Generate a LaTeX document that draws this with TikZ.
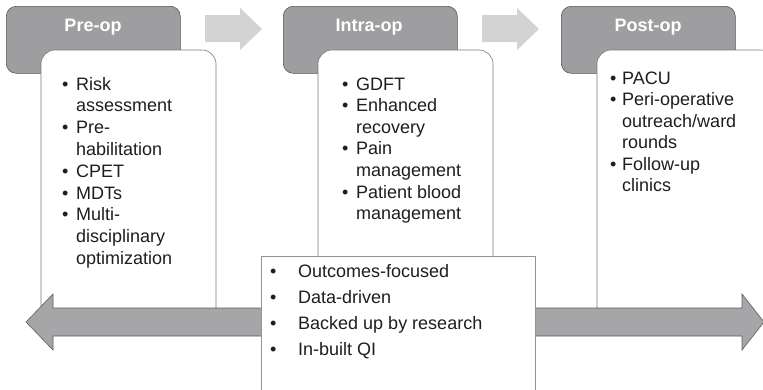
\documentclass[tikz,border=0pt]{standalone}
\usepackage{fontspec}
\setmainfont{Liberation Sans}
\definecolor{hdrfill}{RGB}{158,158,161}
\definecolor{hdrdraw}{RGB}{85,85,85}
\definecolor{boxdraw}{RGB}{120,120,120}
\definecolor{bigfill}{RGB}{166,166,169}
\definecolor{bigdraw}{RGB}{95,95,95}
\definecolor{lightarr}{RGB}{211,211,211}
\definecolor{txt}{RGB}{30,30,30}
\newcommand{\itmA}{\makebox[14pt][l]{\textbullet}}
\newcommand{\itmB}{\makebox[12pt][l]{\textbullet}}
\newcommand{\itmC}{\makebox[28pt][l]{\textbullet}}
\begin{document}
\begin{tikzpicture}[x=1pt,y=-1pt,
  hdr/.style={draw=hdrdraw,line width=0.6pt,fill=hdrfill,rounded corners=10pt,
    minimum width=174pt,minimum height=67pt,anchor=north west,inner sep=0pt},
  hdrtext/.style={text=white,font=\fontsize{18}{21}\selectfont\bfseries,anchor=base,inner sep=0pt},
  wbox/.style={draw=boxdraw,line width=0.6pt,fill=white,rounded corners=14pt},
  listtext/.style={text=txt,anchor=base west,inner sep=0pt,align=left},
  flowarrow/.style={fill=lightarr,draw=none},
  bigarrow/.style={fill=bigfill,draw=bigdraw,line width=0.6pt,line join=miter},
  notebox/.style={draw=boxdraw!80,line width=0.6pt,fill=white}]
\clip (0,0) rectangle (763,389);
\fill[white] (0,0) rectangle (763,389);
% flow arrows between headers
\fill[flowarrow] (205,15) -- (240,15) -- (240,8) -- (262,29) -- (240,50) -- (240,42) -- (205,42) -- cycle;
\fill[flowarrow] (482,15) -- (517,15) -- (517,8) -- (539,29) -- (517,50) -- (517,42) -- (482,42) -- cycle;
% headers
\node[hdr] (preh) at (6,6) {};
\node[hdr] (intrah) at (283,6) {};
\node[hdr] (posth) at (561,6) {};
\node[hdrtext] (pret) at (93,31) {Pre-op};
\node[hdrtext] (intrat) at (369,31) {Intra-op};
\node[hdrtext] (postt) at (648,31) {Post-op};
% white content boxes
\coordinate (preA) at (41,320);
\coordinate (preB) at (216,50);
\coordinate (preC) at (216,320);
\filldraw[wbox] (preA) |- (preB) -- (preC);
\coordinate (intA) at (318,320);
\coordinate (intB) at (493,50);
\coordinate (intC) at (493,320);
\filldraw[wbox] (intA) |- (intB) -- (intC);
\coordinate (posA) at (597,320);
\coordinate (posB) at (775,50);
\coordinate (posC) at (775,320);
\filldraw[wbox] (posA) |- (posB) -- (posC);
% list texts
\node[listtext] (prelist) at (62,90) {\fontsize{18}{21.8}\selectfont
\begin{tabular}[t]{@{}l@{}}
\itmA Risk\\
\hspace*{14pt}assessment\\
\itmA Pre-\\
\hspace*{14pt}habilitation\\
\itmA CPET\\
\itmA MDTs\\
\itmA Multi-\\
\hspace*{14pt}disciplinary\\
\hspace*{14pt}optimization
\end{tabular}};
\node[listtext] (intlist) at (342,90) {\fontsize{18}{21.6}\selectfont
\begin{tabular}[t]{@{}l@{}}
\itmA GDFT\\
\itmA Enhanced\\
\hspace*{14pt}recovery\\
\itmA Pain\\
\hspace*{14pt}management\\
\itmA Patient blood\\
\hspace*{14pt}management
\end{tabular}};
\node[listtext] (poslist) at (610,84) {\fontsize{18}{21.5}\selectfont
\begin{tabular}[t]{@{}l@{}}
\itmB PACU\\
\itmB Peri-operative\\
\hspace*{12pt}outreach/ward\\
\hspace*{12pt}rounds\\
\itmB Follow-up\\
\hspace*{12pt}clinics
\end{tabular}};
% big double arrow
\filldraw[bigarrow] (26,322) -- (53,294) -- (53,308) -- (742,308) -- (742,294) -- (764,322)
  -- (742,350) -- (742,336) -- (53,336) -- (53,350) -- cycle;
% bottom note box
\node[notebox,anchor=north west,minimum width=274pt,minimum height=150pt,inner sep=0pt] (note) at (261,256) {};
\node[listtext] (notelist) at (270,277) {\fontsize{18}{26}\selectfont
\begin{tabular}[t]{@{}l@{}}
\itmC Outcomes-focused\\
\itmC Data-driven\\
\itmC Backed up by research\\
\itmC In-built QI
\end{tabular}};
\end{tikzpicture}
\end{document}
